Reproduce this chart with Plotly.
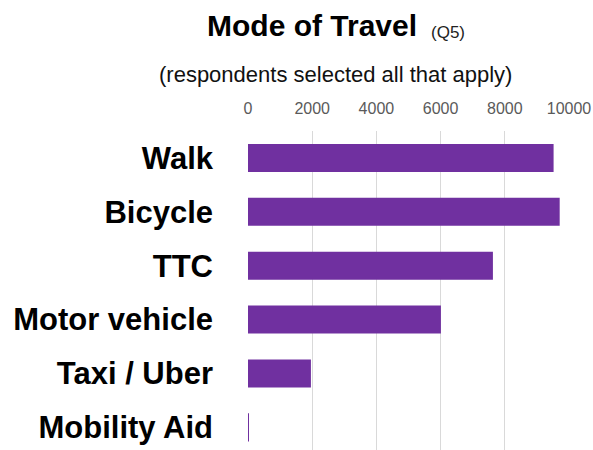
import plotly.graph_objects as go

# Survey responses: mode of travel (multiple selections allowed)
modes = ["Walk", "Bicycle", "TTC", "Motor vehicle", "Taxi / Uber", "Mobility Aid"]
respondents = [9520, 9710, 7630, 6010, 1960, 30]
tick_values = [0, 2000, 4000, 6000, 8000, 10000]
tick_labels = ["0", "2000", "4000", "6000", "8000", "10000"]

W, H = 593, 450
M_L, M_R, M_T, M_B = 248, 24, 131, 0
plot_w = W - M_L - M_R
plot_h = H - M_T - M_B


def px_x(p):
    return (p - M_L) / plot_w


def px_y(p):
    return (H - M_B - p) / plot_h


fig = go.Figure(
    go.Bar(
        x=respondents,
        y=modes,
        orientation="h",
        marker=dict(color="#7030A0", line=dict(width=0)),
        hoverinfo="x+y",
    )
)

fig.update_layout(
    width=W,
    height=H,
    margin=dict(l=M_L, r=M_R, t=M_T, b=M_B),
    paper_bgcolor="white",
    plot_bgcolor="white",
    showlegend=False,
    bargap=0.48,
    font=dict(family="Liberation Sans, Arial, sans-serif"),
    annotations=[
        dict(
            text="<b>Mode of Travel</b>",
            xref="paper", yref="paper",
            x=px_x(205), y=px_y(26),
            xanchor="left", yanchor="middle",
            showarrow=False,
            font=dict(size=30, color="#000000"),
        ),
        dict(
            text="(Q5)",
            xref="paper", yref="paper",
            x=px_x(429), y=px_y(32),
            xanchor="left", yanchor="middle",
            showarrow=False,
            font=dict(size=17, color="#222222"),
        ),
        dict(
            text="(respondents selected all that apply)",
            xref="paper", yref="paper",
            x=px_x(335), y=px_y(74),
            xanchor="center", yanchor="middle",
            showarrow=False,
            font=dict(size=22, color="#111111"),
        ),
    ],
)

fig.update_xaxes(
    side="top",
    range=[0, 10000],
    tickvals=tick_values,
    ticktext=tick_labels,
    tickfont=dict(size=16, color="#5a5a5a"),
    showgrid=True,
    gridcolor="#d9d9d9",
    gridwidth=1,
    zeroline=False,
    showline=False,
    ticks="",
    ticklabelstandoff=13,
    fixedrange=True,
)

fig.update_yaxes(
    type="category",
    categoryorder="array",
    categoryarray=modes,
    range=[5.42, -0.5],
    tickfont=dict(size=31, color="#000000", family="Liberation Sans, Arial, sans-serif", weight="bold"),
    showgrid=False,
    zeroline=False,
    showline=False,
    ticks="",
    ticklabelstandoff=34,
    fixedrange=True,
)

fig.write_html("out.html")
